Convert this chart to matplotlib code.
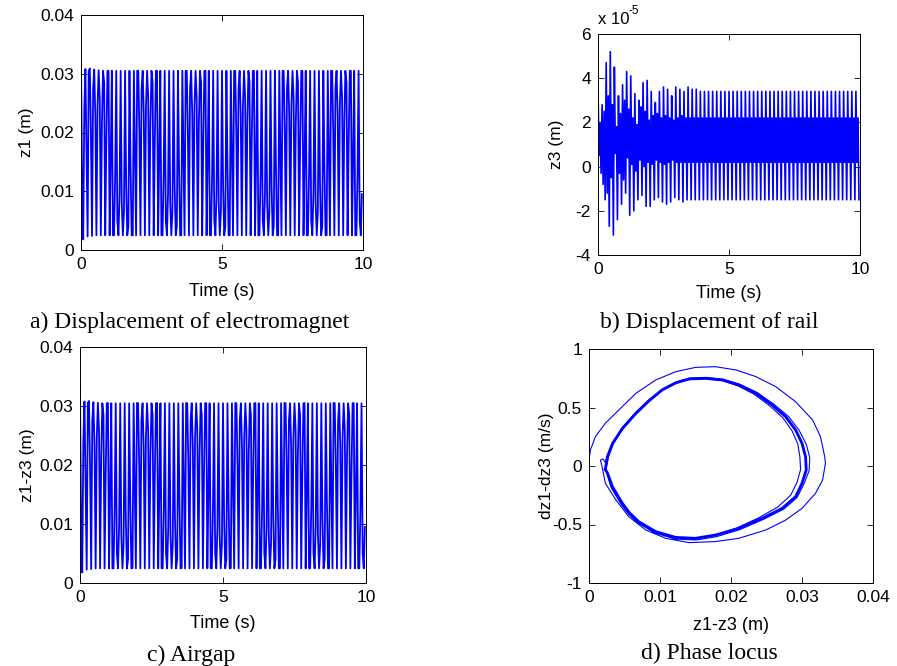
import numpy as np
import matplotlib
matplotlib.use('Agg')
import matplotlib.pyplot as plt

# ---- data ----
# z1, one cycle = [peak, point on falling edge, trough, point on rising edge], in mm
z1_hi_mm = [33.3, 30.8, 30.9, 30.7, 30.6, 30.5, 30.5, 30.5, 30.5, 30.5, 30.5, 30.5, 30.5, 30.5, 30.5, 30.5,
            30.5, 30.5, 30.5, 30.5, 30.5, 30.5, 30.5, 30.5, 30.5, 30.5, 30.5, 30.5, 30.5, 30.5, 30.5, 30.5,
            30.5, 30.5, 30.5, 30.5, 30.5, 30.5, 30.5, 30.5, 30.5, 30.5, 30.5, 30.5, 30.5, 30.5, 30.5, 30.5,
            30.5, 30.5, 30.5, 30.5, 30.5, 30.5, 30.5, 30.5, 30.5, 30.5, 30.5, 30.5, 30.5, 30.5, 30.5, 30.5]
z1_fall_mm = [10.0, 17.0, 20.0, 23.0, 26.0, 28.5, 30.5,
              2.5, 5.0, 8.0, 11.0, 14.0, 17.0, 20.0, 23.0, 26.0, 28.5, 30.5,
              2.5, 5.0, 8.0, 11.0, 14.0, 17.0, 20.0, 23.0, 26.0, 28.5, 30.5,
              2.5, 5.0, 8.0, 11.0, 14.0, 17.0, 20.0, 23.0, 26.0, 28.5, 30.5,
              2.5, 5.0, 8.0, 11.0, 14.0, 17.0, 20.0, 23.0, 26.0, 28.5, 30.5,
              2.5, 5.0, 8.0, 11.0, 14.0, 17.0, 20.0, 23.0, 26.0, 28.5, 30.5,
              2.5, 5.0]
z1_lo_mm = [1.8, 2.3, 2.4, 2.5, 2.5, 2.5, 2.5, 2.5, 2.5, 2.5, 2.5, 2.5, 2.5, 2.5, 2.5, 2.5,
            2.5, 2.5, 2.5, 2.5, 2.5, 2.5, 2.5, 2.5, 2.5, 2.5, 2.5, 2.5, 2.5, 2.5, 2.5, 2.5,
            2.5, 2.5, 2.5, 2.5, 2.5, 2.5, 2.5, 2.5, 2.5, 2.5, 2.5, 2.5, 2.5, 2.5, 2.5, 2.5,
            2.5, 2.5, 2.5, 2.5, 2.5, 2.5, 2.5, 2.5, 2.5, 2.5, 2.5, 2.5, 2.5, 2.5, 2.5, 2.5]
z1_rise_mm = [24.0,
              30.5, 27.5, 24.5, 21.5, 18.5, 15.5, 12.5, 9.5, 6.5, 4.0, 2.5,
              30.5, 27.5, 24.5, 21.5, 18.5, 15.5, 12.5, 9.5, 6.5, 4.0, 2.5,
              30.5, 27.5, 24.5, 21.5, 18.5, 15.5, 12.5, 9.5, 6.5, 4.0, 2.5,
              30.5, 27.5, 24.5, 21.5, 18.5, 15.5, 12.5, 9.5, 6.5, 4.0, 2.5,
              30.5, 27.5, 24.5, 21.5, 18.5, 15.5, 12.5, 9.5, 6.5, 4.0, 2.5,
              30.5, 27.5, 24.5, 21.5, 18.5, 15.5, 12.5, 9.5]

# z3, one cycle = [peak, inner low, inner high, trough], in 1e-5 m
z3_hi = [3.5, 2.8, 4.7, 5.2, 4.5, 3.2, 3.7, 4.3, 4.1, 3.3, 3.0, 3.8, 3.9, 3.4, 2.9, 3.4,
         3.6, 3.5, 3.2, 3.6, 3.5, 3.4, 3.6, 3.5, 3.5, 3.4, 3.4, 3.4, 3.4, 3.4, 3.4, 3.4,
         3.4, 3.4, 3.4, 3.4, 3.4, 3.4, 3.4, 3.4, 3.4, 3.4, 3.4, 3.4, 3.4, 3.4, 3.4, 3.4,
         3.4, 3.4, 3.4, 3.4, 3.4, 3.4, 3.4, 3.4, 3.4, 3.4, 3.4, 3.4, 3.4, 3.4, 3.4, 3.4]
z3_il = [0.5, -0.8, -1.2, -0.5, 0.6, -0.3, -0.6, 0.4, 0.1, -0.2, 0.3, 0.0, 0.2, 0.1, 0.3, 0.2,
         0.1, 0.2, 0.3, 0.2, 0.2, 0.2, 0.2, 0.2, 0.2, 0.2, 0.2, 0.2, 0.2, 0.2, 0.2, 0.2,
         0.2, 0.2, 0.2, 0.2, 0.2, 0.2, 0.2, 0.2, 0.2, 0.2, 0.2, 0.2, 0.2, 0.2, 0.2, 0.2,
         0.2, 0.2, 0.2, 0.2, 0.2, 0.2, 0.2, 0.2, 0.2, 0.2, 0.2, 0.2, 0.2, 0.2, 0.2, 0.2]
z3_ih = [2.0, 2.5, 3.2, 2.8, 1.8, 2.4, 3.0, 2.6, 2.2, 1.9, 2.7, 2.5, 2.1, 2.3, 2.4, 2.2,
         2.3, 2.2, 2.1, 2.2, 2.3, 2.2, 2.2, 2.2, 2.2, 2.2, 2.2, 2.2, 2.2, 2.2, 2.2, 2.2,
         2.2, 2.2, 2.2, 2.2, 2.2, 2.2, 2.2, 2.2, 2.2, 2.2, 2.2, 2.2, 2.2, 2.2, 2.2, 2.2,
         2.2, 2.2, 2.2, 2.2, 2.2, 2.2, 2.2, 2.2, 2.2, 2.2, 2.2, 2.2, 2.2, 2.2, 2.2, 2.2]
z3_lo = [-0.3, -1.5, -2.7, -3.1, -2.4, -1.7, -1.2, -2.2, -2.0, -1.5, -1.3, -1.8, -1.8, -1.5, -1.4, -1.6,
         -1.7, -1.6, -1.4, -1.5, -1.6, -1.5, -1.5, -1.5, -1.5, -1.5, -1.5, -1.5, -1.5, -1.5, -1.5, -1.5,
         -1.5, -1.5, -1.5, -1.5, -1.5, -1.5, -1.5, -1.5, -1.5, -1.5, -1.5, -1.5, -1.5, -1.5, -1.5, -1.5,
         -1.5, -1.5, -1.5, -1.5, -1.5, -1.5, -1.5, -1.5, -1.5, -1.5, -1.5, -1.5, -1.5, -1.5, -1.5, -1.5]

# phase locus: first (outer) loop, a second loop, then the limit cycle
tr_x = [0.0, 0.0002, 0.0009, 0.0023, 0.0042, 0.0066, 0.0094, 0.0122, 0.0150, 0.0178, 0.0207, 0.0235,
        0.0263, 0.0291, 0.0315, 0.0326, 0.0332, 0.0333, 0.0329, 0.0319, 0.0300, 0.0277, 0.0249, 0.0211,
        0.0178, 0.0141, 0.0108, 0.0080, 0.0056, 0.0038, 0.0023, 0.0018, 0.0016, 0.0020, 0.0023,
        0.0026, 0.0033, 0.0047, 0.0066, 0.0085, 0.0104, 0.0123, 0.0142, 0.0165, 0.0189, 0.0212, 0.0237,
        0.0261, 0.0281, 0.0296, 0.0306, 0.0311, 0.0310, 0.0303, 0.0293, 0.0274, 0.0246, 0.0212, 0.0179,
        0.0151, 0.0122, 0.0093, 0.0069, 0.0056, 0.0046, 0.0032, 0.0025, 0.0023]
tr_y = [0.05, 0.137, 0.251, 0.365, 0.479, 0.621, 0.735, 0.806, 0.843, 0.849, 0.821, 0.764,
        0.678, 0.550, 0.393, 0.251, 0.080, 0.023, -0.120, -0.234, -0.362, -0.462, -0.547, -0.618,
        -0.646, -0.655, -0.618, -0.547, -0.433, -0.291, -0.148, 0.008, 0.05, 0.06, 0.03,
        0.09, 0.20, 0.33, 0.46, 0.57, 0.66, 0.72, 0.752, 0.757, 0.742, 0.700, 0.628,
        0.525, 0.423, 0.305, 0.185, 0.07, -0.04, -0.15, -0.27, -0.37, -0.455, -0.545, -0.605,
        -0.632, -0.625, -0.572, -0.485, -0.41, -0.33, -0.19, -0.05, 0.0]
lc_x = [0.0023, 0.0026, 0.0033, 0.0047, 0.0066, 0.0085, 0.0103, 0.0122, 0.0141, 0.0164, 0.0188, 0.0211,
        0.0235, 0.0258, 0.0277, 0.0291, 0.0300, 0.0305, 0.0306, 0.0300, 0.0291, 0.0272, 0.0244, 0.0211,
        0.0178, 0.0150, 0.0122, 0.0094, 0.0070, 0.0057, 0.0047, 0.0033, 0.0026, 0.0023]
lc_y = [-0.03, 0.08, 0.19, 0.32, 0.45, 0.56, 0.65, 0.71, 0.744, 0.749, 0.735, 0.692,
        0.621, 0.521, 0.421, 0.308, 0.194, 0.08, -0.034, -0.148, -0.262, -0.362, -0.447, -0.533,
        -0.590, -0.618, -0.610, -0.561, -0.476, -0.40, -0.319, -0.177, -0.06, -0.03]
lc2_x = [0.0024, 0.0028, 0.0035, 0.0049, 0.0068, 0.0087, 0.0105, 0.0124, 0.0143, 0.0165, 0.0188, 0.0210,
         0.0233, 0.0255, 0.0273, 0.0286, 0.0294, 0.0297, 0.0298, 0.0293, 0.0284, 0.0266, 0.0240, 0.0208,
         0.0176, 0.0148, 0.0120, 0.0092, 0.0068, 0.0055, 0.0045, 0.0031, 0.0025, 0.0024]
lc2_y = [-0.02, 0.09, 0.20, 0.33, 0.455, 0.565, 0.655, 0.712, 0.742, 0.746, 0.730, 0.685,
         0.612, 0.512, 0.412, 0.300, 0.190, 0.08, -0.03, -0.14, -0.25, -0.35, -0.44, -0.53,
         -0.595, -0.625, -0.617, -0.568, -0.482, -0.405, -0.325, -0.18, -0.06, -0.02]

t_end = 10.0

# ---- build the traces ----
z1 = np.column_stack([z1_hi_mm, z1_fall_mm, z1_lo_mm, z1_rise_mm]).ravel() / 1000.0
z3 = np.column_stack([z3_hi, z3_il, z3_ih, z3_lo]).ravel()
t = np.arange(len(z1)) * t_end / len(z1)
airgap = z1 - z3 * 1e-5

plt.rcParams['font.family'] = ['Liberation Sans', 'DejaVu Sans']
plt.rcParams['axes.unicode_minus'] = False
W, H = 897, 666
fig = plt.figure(figsize=(W / 100, H / 100), dpi=100)
blue = '#0000ff'
fs = 12.5


def add_ax(l, t_, r, b):
    return fig.add_axes([l / W, 1 - b / H, (r - l) / W, (b - t_) / H])


def style(ax, box, xlab, ylab, ylab_x, xlab_y):
    l, t_, r, b = box
    ax.tick_params(direction='in', top=True, right=True, length=4, width=0.6,
                   labelsize=fs, pad=5)
    for s in ax.spines.values():
        s.set_linewidth(0.7)
    ax.set_xlabel(xlab, fontsize=fs + 0.5)
    ax.set_ylabel(ylab, fontsize=fs)
    ax.xaxis.label.set_va('center')
    ax.yaxis.label.set_va('center')
    ax.yaxis.set_label_coords((ylab_x - l) / (r - l), 0.5)
    ax.xaxis.set_label_coords(0.5, (b - xlab_y) / (b - t_))


def fmt(vals):
    return ['%g' % v for v in vals]


# a) electromagnet
box_a = (81, 15, 363, 250)
ax = add_ax(*box_a)
ax.plot(t, z1, color=blue, lw=1.3)
ax.set_xlim(0, 10)
ax.set_ylim(0, 0.04)
ax.set_xticks([0, 5, 10])
ax.set_yticks([0, 0.01, 0.02, 0.03, 0.04])
ax.set_yticklabels(fmt([0, 0.01, 0.02, 0.03, 0.04]))
style(ax, box_a, 'Time (s)', 'z1 (m)', 27, 292)

# b) rail
box_b = (598, 34, 860, 255)
ax = add_ax(*box_b)
ax.plot(t, z3, color=blue, lw=1.2)
ax.set_xlim(0, 10)
ax.set_ylim(-4, 6)
ax.set_xticks([0, 5, 10])
ax.set_yticks([-4, -2, 0, 2, 4, 6])
style(ax, box_b, 'Time (s)', 'z3 (m)', 557, 293)
fig.text(598 / W, 1 - 20 / H, 'x 10', fontsize=12, va='center', ha='left')
fig.text(628 / W, 1 - 11 / H, '-5', fontsize=8.5, va='center', ha='left')

# c) airgap
box_c = (80, 347, 366, 583)
ax = add_ax(*box_c)
ax.plot(t, airgap, color=blue, lw=1.3)
ax.set_xlim(0, 10)
ax.set_ylim(0, 0.04)
ax.set_xticks([0, 5, 10])
ax.set_yticks([0, 0.01, 0.02, 0.03, 0.04])
ax.set_yticklabels(fmt([0, 0.01, 0.02, 0.03, 0.04]))
style(ax, box_c, 'Time (s)', 'z1-z3 (m)', 27, 623)

# d) phase locus
box_d = (589, 349, 873, 583)
ax = add_ax(*box_d)
ax.plot(tr_x, tr_y, color=blue, lw=0.8)
ax.plot(lc2_x, lc2_y, color=blue, lw=0.8)
ax.plot(lc_x, lc_y, color=blue, lw=2.0)
ax.set_xlim(0, 0.04)
ax.set_ylim(-1, 1)
ax.set_xticks([0, 0.01, 0.02, 0.03, 0.04])
ax.set_xticklabels(fmt([0, 0.01, 0.02, 0.03, 0.04]))
ax.set_yticks([-1, -0.5, 0, 0.5, 1])
ax.set_yticklabels(fmt([-1, -0.5, 0, 0.5, 1]))
style(ax, box_d, 'z1-z3 (m)', 'dz1-dz3 (m/s)', 547, 625)

# captions
cap = dict(fontsize=17, family=['Liberation Serif', 'DejaVu Serif'], ha='center', va='center')
fig.text(190 / W, 1 - 322 / H, 'a) Displacement of electromagnet', **cap)
fig.text(709 / W, 1 - 322 / H, 'b) Displacement of rail', **cap)
fig.text(191 / W, 1 - 655 / H, 'c) Airgap', **cap)
fig.text(709 / W, 1 - 653 / H, 'd) Phase locus', **cap)

fig.savefig('out.png', dpi=100)
